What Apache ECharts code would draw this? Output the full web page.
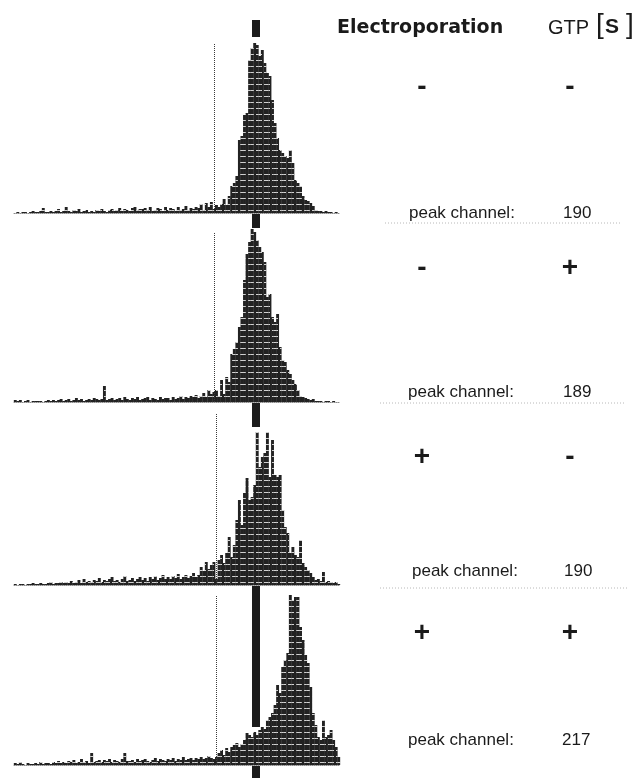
<!DOCTYPE html>
<html><head><meta charset="utf-8">
<script src="https://cdn.jsdelivr.net/npm/echarts@6/dist/echarts.min.js"></script>
<style>html,body{margin:0;padding:0;background:#fff}#c{width:642px;height:778px}</style>
</head><body><div id="c"></div>
<script>
// ---- data (channel histograms, 2 channels per bin, 0..256) ----
const binWidth = 2;
const panel1Counts = [
0,1,0,1,1,0,1,2,1,1, 2,5,1,1,2,1,2,4,1,2, 6,2,1,3,2,4,1,2,3,1, 2,1,3,2,4,2,1,3,4,2,
3,5,2,4,3,2,5,6,3,4, 4,5,3,6,2,3,5,4,2,6, 3,5,4,2,6,3,4,7,3,5, 4,6,5,9,3,10,6,11,4,8,
6,9,14,8,17,27,30,37,73,77, 98,100,153,165,170,168,157,163,150,140,
137,113,90,75,63,60,57,55,63,50, 33,30,27,17,13,12,10,7,3,2, 2,1,2,1,1,0,1,0];
const panel2Counts = [
2,1,2,0,1,2,0,1,1,1, 1,0,1,2,1,2,1,2,3,1, 2,3,1,2,4,2,3,1,2,3, 2,4,3,2,3,16,2,3,4,2,
3,4,2,5,3,2,4,3,5,2, 3,4,5,2,4,3,2,5,3,4, 4,2,5,3,4,6,3,5,4,6, 5,7,4,6,9,5,12,8,10,12,
6,22,8,25,20,48,53,60,75,85, 122,148,160,173,170,162,155,150,140,105,
108,85,80,88,55,42,40,32,28,22, 18,12,6,5,4,3,2,3,1,1, 1,0,1,1,0,1,0,0];
const panel3Counts = [
1,0,1,1,0,1,1,2,1,1, 2,1,1,2,3,1,2,2,3,2, 3,2,4,2,3,5,2,6,3,4, 3,5,4,7,3,5,4,6,8,4,
5,3,6,9,4,5,7,4,6,8, 5,7,4,8,6,9,5,7,10,6, 8,6,9,7,11,6,8,10,7,9, 12,8,10,18,14,23,16,20,23,6,
25,30,22,32,48,28,40,65,85,60, 92,107,85,88,100,153,118,128,132,153,
108,145,110,108,110,75,58,52,32,38, 30,28,45,22,18,15,12,8,5,6, 4,13,3,4,3,2,3,1];
const panel4Counts = [
2,1,3,1,0,2,1,1,2,1, 3,1,2,2,1,3,2,4,2,3, 2,4,3,5,2,3,6,3,4,2, 12,3,4,5,3,5,4,6,3,5,
4,3,6,12,4,4,5,3,6,4, 5,6,4,3,5,7,4,6,5,4, 6,5,7,4,6,5,8,5,6,7, 5,7,6,8,6,7,9,7,6,8,
12,15,10,17,13,18,20,22,18,21, 25,32,30,28,33,30,35,38,36,45,
48,52,60,80,72,98,105,112,170,165, 168,168,138,125,110,102,78,52,40,28, 25,45,28,30,35,25,18,8];
const peakChannels = ['190', '189', '190', '217'];
const electroporationSigns = ['-', '-', '+', '+'];
const gtpSigns = ['-', '+', '-', '+'];
const gateChannels = [157, 157, 159, 159];
const gateHeights = [170, 170, 172, 170];
const refChannel = 190;
// reference-marker segments per panel, in count units [from, to]
const refSegments = [[[193, 176]], [[188, 174]], [[182, 158]], [[179, 38], [-1, -13]]];

// ---- layout ----
const counts = [panel1Counts, panel2Counts, panel3Counts, panel4Counts];
const layout = [
  {top: 15, base: 213, below: 0},
  {top: 214, base: 402, below: 0},
  {top: 403, base: 585, below: 0},
  {top: 586, base: 765, below: 13}
];
const signY = [87, 268, 457, 633];
const peakY = [213, 392, 571, 740];
const labelX = [409, 408, 412, 408];
const numX = [563, 563, 564, 562];
const sepLines = [[385, 620, 223], [380, 625, 403], [380, 628, 588]];

const grids = [], xAxes = [], yAxes = [], series = [];
layout.forEach((L, k) => {
  grids.push({left: 14, width: 326, top: L.top, height: L.base - L.top + L.below});
  xAxes.push({gridIndex: k, type: 'value', min: 0, max: 256,
    axisLine: {show: true, onZero: true, lineStyle: {color: '#8a8a8a', width: 1, type: [1, 1]}},
    axisTick: {show: false}, axisLabel: {show: false}, splitLine: {show: false}});
  yAxes.push({gridIndex: k, type: 'value', min: -L.below, max: L.base - L.top, show: false,
    splitLine: {show: false}});
  const ml = [];
  ml.push([{coord: [gateChannels[k], 0], lineStyle: {color: '#3a3a3a', width: 1, type: [1, 1]}},
           {coord: [gateChannels[k], gateHeights[k]]}]);
  refSegments[k].forEach(s => {
    ml.push([{coord: [refChannel, s[0]], lineStyle: {color: '#1c1c1c', width: 8, type: 'solid', cap: 'butt'}},
             {coord: [refChannel, s[1]]}]);
  });
  series.push({
    type: 'bar', xAxisIndex: k, yAxisIndex: k, barWidth: 2.9,
    data: counts[k].map((v, i) => [i * binWidth + binWidth / 2, v]),
    itemStyle: {color: '#222222',
      decal: {symbol: 'rect', symbolSize: 1, dashArrayX: [6, 2], dashArrayY: [1, 5],
              color: 'rgba(255,255,255,0.8)'}},
    markLine: {silent: true, symbol: ['none', 'none'], label: {show: false}, animation: false, data: ml}
  });
});

const txt = (x, y, text, size, opts) => ({type: 'text', x: x, y: y, silent: true,
  style: Object.assign({text: text, fontSize: size, fontFamily: 'Liberation Sans, Arial, sans-serif',
    fill: '#1a1a1a', verticalAlign: 'middle', align: 'left'}, (opts || {}))});
const graphic = [];
graphic.push(txt(337, 28, 'Electroporation', 19, {fontFamily: 'DejaVu Sans', fontWeight: 'bold'}));
graphic.push(txt(548, 28, 'GTP', 20));
graphic.push(txt(596, 25, '[', 28));
graphic.push(txt(605, 27, 'S', 21, {fontWeight: 'bold'}));
graphic.push(txt(626, 25, ']', 28));
for (let k = 0; k < 4; k++) {
  graphic.push(txt(422, signY[k], electroporationSigns[k], 28, {fontWeight: 'bold', align: 'center'}));
  graphic.push(txt(570, signY[k], gtpSigns[k], 28, {fontWeight: 'bold', align: 'center'}));
  graphic.push(txt(labelX[k], peakY[k], 'peak channel:', 17));
  graphic.push(txt(numX[k], peakY[k], peakChannels[k], 17));
}
sepLines.forEach(s => graphic.push({type: 'line', silent: true,
  shape: {x1: s[0], y1: s[2], x2: s[1], y2: s[2]},
  style: {stroke: '#b8b8b8', lineWidth: 1, lineDash: [1, 2]}}));

const chart = echarts.init(document.getElementById('c'), null, {renderer: 'canvas'});
chart.setOption({animation: false, backgroundColor: '#fff', grid: grids, xAxis: xAxes, yAxis: yAxes,
  series: series, graphic: graphic});
</script></body></html>
